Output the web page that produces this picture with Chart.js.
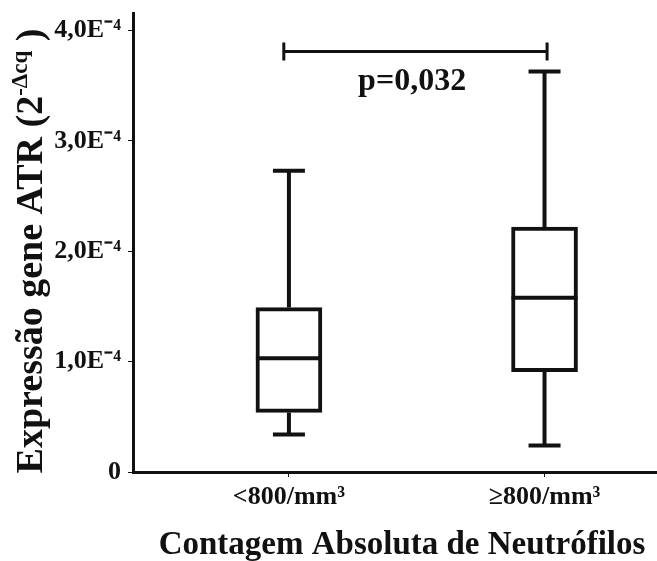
<!DOCTYPE html>
<html>
<head>
<meta charset="utf-8">
<script src="https://cdn.jsdelivr.net/npm/chart.js@4/dist/chart.umd.min.js"></script>
<style>
  body { margin: 0; background: #fff; }
</style>
</head>
<body>
<canvas id="boxChart" width="657" height="561"></canvas>
<script>
// groups and box values
const categories = ['<800/mm³', '≥800/mm³'];
const whiskerMin = [0.34e-4, 0.24e-4];
const q1 = [0.54e-4, 0.91e-4];
const median = [1.03e-4, 1.58e-4];
const q3 = [1.49e-4, 2.22e-4];
const whiskerMax = [2.73e-4, 3.63e-4];

const yTicks = [0, 1e-4, 2e-4, 3e-4, 4e-4];
const yTickLabels = ['0', '1,0E⁻⁴', '2,0E⁻⁴', '3,0E⁻⁴', '4,0E⁻⁴'];

// significance bracket
const sigX = [-0.02, 1.01];
const sigY = 3.81e-4;
const pText = 'p=0,032';
const pPos = [0.482, 3.54e-4];

const yTitleMain = 'Expressão gene ATR (2';
const yTitleSup = '-Δcq';
const yTitleEnd = ' )';
const xTitle = 'Contagem Absoluta de Neutrófilos';

const ink = '#111';
const serif = "'Liberation Serif', 'Times New Roman', serif";

const boxExtras = {
  id: 'boxExtras',
  afterDatasetsDraw(chart) {
    const ctx = chart.ctx;
    const xs = chart.scales.x, ys = chart.scales.y;
    ctx.save();
    ctx.strokeStyle = ink;
    ctx.lineCap = 'butt';
    categories.forEach((c, i) => {
      const x = xs.getPixelForValue(i);
      // median
      ctx.lineWidth = 4;
      ctx.beginPath();
      ctx.moveTo(x - 33, ys.getPixelForValue(median[i]));
      ctx.lineTo(x + 33, ys.getPixelForValue(median[i]));
      ctx.stroke();
      // whiskers
      ctx.beginPath();
      ctx.moveTo(x, ys.getPixelForValue(q3[i]));
      ctx.lineTo(x, ys.getPixelForValue(whiskerMax[i]));
      ctx.moveTo(x, ys.getPixelForValue(q1[i]));
      ctx.lineTo(x, ys.getPixelForValue(whiskerMin[i]));
      ctx.stroke();
      // caps
      ctx.beginPath();
      ctx.moveTo(x - 16, ys.getPixelForValue(whiskerMax[i]));
      ctx.lineTo(x + 16, ys.getPixelForValue(whiskerMax[i]));
      ctx.moveTo(x - 16, ys.getPixelForValue(whiskerMin[i]));
      ctx.lineTo(x + 16, ys.getPixelForValue(whiskerMin[i]));
      ctx.stroke();
    });
    // bracket
    const bx1 = xs.getPixelForValue(sigX[0]), bx2 = xs.getPixelForValue(sigX[1]);
    const by = ys.getPixelForValue(sigY);
    ctx.lineWidth = 3;
    ctx.beginPath();
    ctx.moveTo(bx1, by); ctx.lineTo(bx2, by);
    ctx.moveTo(bx1, by - 9); ctx.lineTo(bx1, by + 9);
    ctx.moveTo(bx2, by - 9); ctx.lineTo(bx2, by + 9);
    ctx.stroke();
    ctx.fillStyle = ink;
    ctx.font = 'bold 32px ' + serif;
    ctx.textAlign = 'center';
    ctx.textBaseline = 'middle';
    ctx.fillText(pText, xs.getPixelForValue(pPos[0]), ys.getPixelForValue(pPos[1]));
    ctx.restore();
  },
  afterDraw(chart) {
    const ctx = chart.ctx;
    ctx.save();
    ctx.fillStyle = ink;
    // x title
    ctx.font = 'bold 33px ' + serif;
    ctx.textAlign = 'center';
    ctx.textBaseline = 'middle';
    ctx.fillText(xTitle, 402, 545);
    // rotated y title with superscript
    const big = 'bold 38px ' + serif, small = 'bold 23px ' + serif;
    ctx.font = big;
    const w1 = ctx.measureText(yTitleMain).width;
    const w3 = ctx.measureText(yTitleEnd).width;
    ctx.font = small;
    const w2 = ctx.measureText(yTitleSup).width;
    const total = w1 + w2 + w3;
    ctx.translate(42, 251);
    ctx.rotate(-Math.PI / 2);
    ctx.textBaseline = 'alphabetic';
    ctx.textAlign = 'left';
    let px = -total / 2;
    ctx.font = big;
    ctx.fillText(yTitleMain, px, 0);
    px += w1;
    ctx.font = small;
    ctx.fillText(yTitleSup, px, -15);
    px += w2;
    ctx.font = big;
    ctx.fillText(yTitleEnd, px, 0);
    ctx.restore();
  }
};

new Chart(document.getElementById('boxChart'), {
  type: 'bar',
  data: {
    datasets: [{
      data: categories.map((c, i) => ({ x: i, y: [q1[i], q3[i]] })),
      backgroundColor: '#fff',
      borderColor: ink,
      borderWidth: 4,
      borderSkipped: false,
      barThickness: 66
    }]
  },
  options: {
    responsive: false,
    animation: false,
    layout: { padding: { top: 13, right: 0, left: 0, bottom: 0 } },
    plugins: { legend: { display: false }, tooltip: { enabled: false } },
    scales: {
      x: {
        type: 'linear',
        min: -0.61,
        max: 1.44,
        offset: false,
        afterBuildTicks: s => { s.ticks = categories.map((c, i) => ({ value: i })); },
        afterFit: s => { s.height = 89; s.paddingLeft = 0; s.paddingRight = 0; },
        ticks: {
          callback: (v, i) => categories[i],
          color: ink,
          font: { family: serif, size: 26, weight: 'bold' },
          padding: 5,
          maxRotation: 0
        },
        grid: { offset: false, drawOnChartArea: false, drawTicks: true, tickLength: 5, tickColor: ink, tickWidth: 1 },
        border: { display: true, color: ink, width: 3 }
      },
      y: {
        min: 0,
        max: 4.16e-4,
        afterBuildTicks: s => { s.ticks = yTicks.map(v => ({ value: v })); },
        afterFit: s => { s.width = 133; s.paddingTop = 0; s.paddingBottom = 0; },
        ticks: {
          callback: (v, i) => yTickLabels[i],
          color: ink,
          font: { family: serif, size: 26, weight: 'bold' },
          padding: 7
        },
        grid: { drawOnChartArea: false, drawTicks: true, tickLength: 5, tickColor: ink, tickWidth: 1 },
        border: { display: true, color: ink, width: 3 }
      }
    }
  },
  plugins: [boxExtras]
});
</script>
</body>
</html>
